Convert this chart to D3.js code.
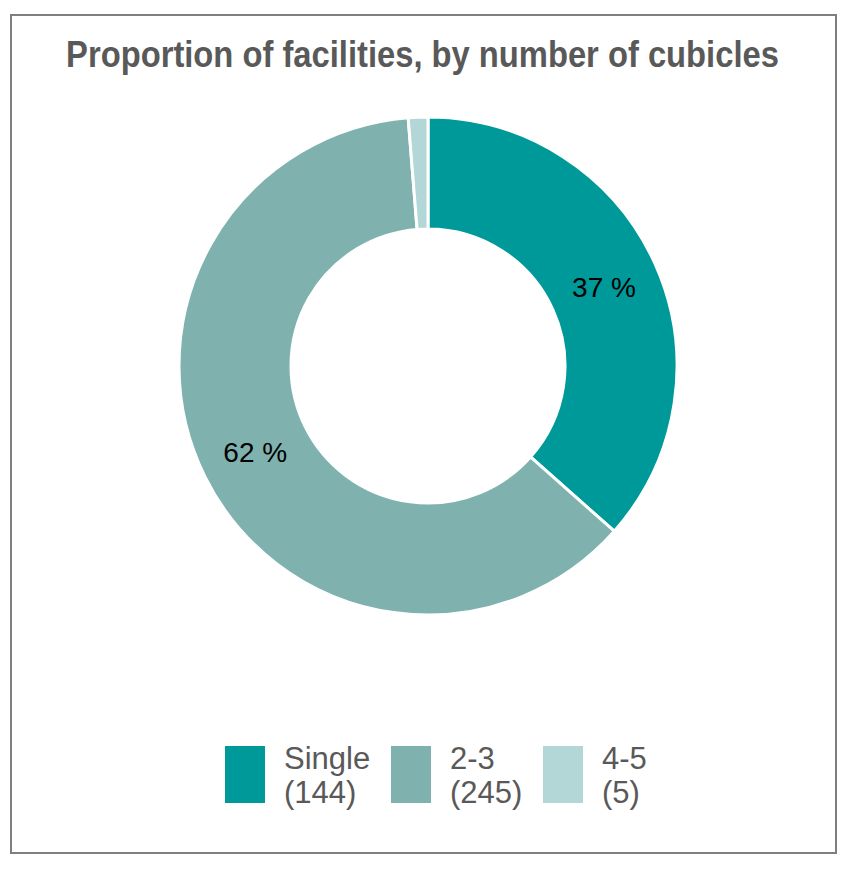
<!DOCTYPE html>
<html>
<head>
<meta charset="utf-8">
<script src="https://cdn.jsdelivr.net/npm/d3@7"></script>
<style>
  body { margin: 0; background: #fff; }
  svg { display: block; }
</style>
</head>
<body>
<div id="chart-area"><svg></svg></div>
<script>
const categories = ["Single", "2-3", "4-5"];
const counts = [144, 245, 5];
const pctLabels = ["37 %", "62 %", ""];
const colours = ["#009999", "#7fb2af", "#b3d7d6"];

const chartSize = { width: 857, height: 873 };
const centre = { x: 428, y: 366 };
const outerR = 249;
const innerR = 137;

const svg = d3
  .select("#chart-area svg")
  .attr("width", chartSize.width)
  .attr("height", chartSize.height);

svg
  .append("rect")
  .attr("x", 11)
  .attr("y", 15)
  .attr("width", 825)
  .attr("height", 838)
  .attr("fill", "#fff")
  .attr("stroke", "#7f7f7f")
  .attr("stroke-width", 2);

// title is set in a narrow face: squeeze regular bold horizontally
const title = svg
  .append("text")
  .attr("text-anchor", "middle")
  .attr("font-family", "'Liberation Sans', Arial, sans-serif")
  .attr("font-weight", "bold")
  .attr("font-size", 37)
  .attr("fill", "#595959")
  .text("Proportion of facilities, by number of cubicles");
const titleW = title.node().getComputedTextLength();
title.attr("transform", `translate(422.5,67) scale(${713 / titleW},1)`);

const pie = d3.pie().sort(null).value(d => d.count);
const data = categories.map((c, i) => ({
  name: c,
  count: counts[i],
  label: pctLabels[i],
  colour: colours[i]
}));
const arc = d3.arc().innerRadius(innerR).outerRadius(outerR);
const labelArc = d3
  .arc()
  .innerRadius((innerR + outerR) / 2)
  .outerRadius((innerR + outerR) / 2);

const g = svg
  .append("g")
  .attr("transform", `translate(${centre.x},${centre.y})`);

const slices = g.selectAll("g.slice").data(pie(data)).enter().append("g");

slices
  .append("path")
  .attr("d", arc)
  .attr("fill", d => d.data.colour)
  .attr("stroke", "#fff")
  .attr("stroke-width", 3);

slices
  .append("text")
  .attr("transform", d => `translate(${labelArc.centroid(d)})`)
  .attr("text-anchor", "middle")
  .attr("dy", "0.35em")
  .attr("font-family", "'Liberation Sans', Arial, sans-serif")
  .attr("font-size", 28)
  .attr("fill", "#000")
  .text(d => d.data.label);

// legend
const legendX = [225, 391, 543];
const legend = svg
  .selectAll("g.legend")
  .data(data)
  .enter()
  .append("g")
  .attr("transform", (d, i) => `translate(${legendX[i]},746)`);

legend
  .append("rect")
  .attr("width", 40)
  .attr("height", 57)
  .attr("fill", d => d.colour);

const lt = legend
  .append("text")
  .attr("font-family", "'Liberation Sans', Arial, sans-serif")
  .attr("font-size", 31)
  .attr("fill", "#595959");
lt.append("tspan").attr("x", 59).attr("y", 23).text(d => d.name);
lt.append("tspan").attr("x", 59).attr("y", 57).text(d => `(${d.count})`);
</script>
</body>
</html>
